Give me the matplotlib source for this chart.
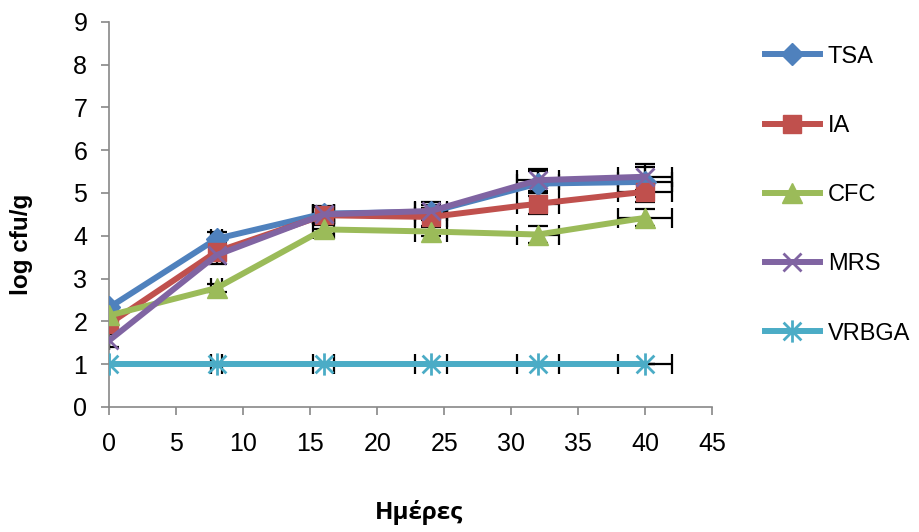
import matplotlib
matplotlib.use('Agg')
import matplotlib.pyplot as plt
from matplotlib.path import Path

plt.rcParams['font.family'] = ['Liberation Sans', 'DejaVu Sans']

# ημέρες αποθήκευσης
days = [0, 8, 16, 24, 32, 40]
days_err = [0.0, 0.4, 0.8, 1.2, 1.6, 2.0]

tsa = [2.33, 3.93, 4.52, 4.56, 5.22, 5.26]
ia = [1.95, 3.63, 4.48, 4.44, 4.75, 5.03]
cfc = [2.14, 2.78, 4.15, 4.10, 4.03, 4.42]
mrs = [1.56, 3.55, 4.50, 4.58, 5.30, 5.38]
vrbga = [1.0, 1.0, 1.0, 1.0, 1.0, 1.0]

tsa_err = [0.10, 0.15, 0.15, 0.15, 0.30, 0.35]
ia_err = [0.10, 0.20, 0.20, 0.20, 0.25, 0.25]
cfc_err = [0.10, 0.10, 0.10, 0.10, 0.20, 0.20]
mrs_err = [0.15, 0.20, 0.20, 0.20, 0.25, 0.30]
vrbga_err = [0.0, 0.0, 0.0, 0.0, 0.0, 0.0]

labels = ['TSA', 'IA', 'CFC', 'MRS', 'VRBGA']
colors = ['#4F81BD', '#C0504D', '#9BBB59', '#8064A2', '#4BACC6']

# αστερίσκος τύπου Excel: κάθετη γραμμή + Χ
star = Path([(0, -1), (0, 1), (-0.8, -0.8), (0.8, 0.8), (-0.8, 0.8), (0.8, -0.8)],
            [Path.MOVETO, Path.LINETO, Path.MOVETO, Path.LINETO, Path.MOVETO, Path.LINETO])
markers = ['D', 's', '^', 'x', star]
msizes = [11.5, 13, 14, 12.5, 16]

series = [tsa, ia, cfc, mrs, vrbga]
errors = [tsa_err, ia_err, cfc_err, mrs_err, vrbga_err]

fig = plt.figure(figsize=(9.2, 5.32), dpi=100)
ax = fig.add_axes([0.119, 0.235, 0.655, 0.724])

for vals, err in zip(series, errors):
    ax.errorbar(days, vals, yerr=err, xerr=days_err, fmt='none', ecolor='black',
                elinewidth=1.6, capsize=7, capthick=1.6, zorder=2)

for vals, lab, col, mk, ms in zip(series, labels, colors, markers, msizes):
    thin = mk in ('x',) or isinstance(mk, Path)
    ax.plot(days, vals, color=col, linewidth=4.3, marker=mk, markersize=ms,
            markeredgewidth=2 if thin else 1, markeredgecolor=col,
            label=lab, zorder=3)

ax.set_xlim(0, 45)
ax.set_ylim(0, 9)
ax.set_xticks(range(0, 46, 5))
ax.set_yticks(range(0, 10))
ax.spines['top'].set_visible(False)
ax.spines['right'].set_visible(False)
for s in ('left', 'bottom'):
    ax.spines[s].set_color('#888888')
    ax.spines[s].set_linewidth(1.2)
ax.tick_params(axis='both', colors='#888888', labelcolor='black', labelsize=18,
               length=6, width=1.2)
ax.tick_params(axis='x', pad=12)
ax.tick_params(axis='y', pad=10)

ax.set_ylabel('log cfu/g', fontsize=17.5, fontweight='bold')
ax.yaxis.set_label_coords(-0.127, 0.423)
ax.set_xlabel('Ημέρες', fontsize=17.5, fontweight='bold',
              family=['Open Sans', 'DejaVu Sans'])
ax.xaxis.set_label_coords(0.514, -0.242)

ax.legend(loc='upper left', bbox_to_anchor=(0.821, 0.932), bbox_transform=fig.transFigure,
          frameon=False, fontsize=17, handlelength=2.33, labelspacing=2.0,
          handletextpad=0.34, borderaxespad=0)

fig.savefig('out.png', dpi=100)
